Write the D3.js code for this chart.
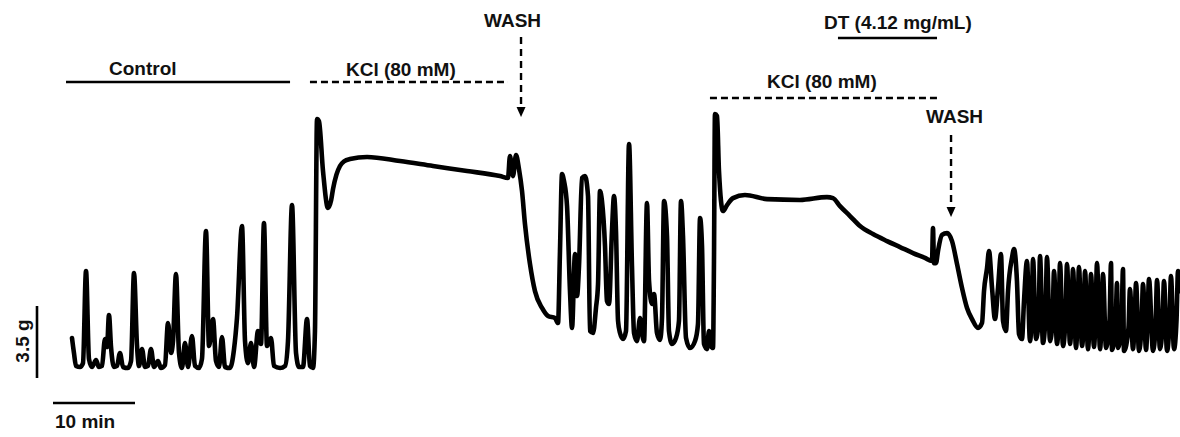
<!DOCTYPE html>
<html>
<head>
<meta charset="utf-8">
<script src="https://cdn.jsdelivr.net/npm/d3@7"></script>
<style>
  html, body { margin: 0; padding: 0; background: #fff; }
  svg { display: block; }
  text { font-family: "Liberation Sans", Arial, sans-serif; font-weight: bold; font-size: 19px; fill: #111; }
</style>
</head>
<body>
<svg id="chart" width="1180" height="437"></svg>
<script>
// Isometric tension recording: [time (min), tension (g)]

// Spontaneous contractions, control period
const controlTrace = [
  [0,1.41],[0.24,0.68],[0.49,0.05],[0.98,0],[1.34,0.19],[1.71,4.67],[2.07,0.39],[2.44,0],
  [2.93,0.34],[3.29,0],[3.66,0.05],[4.02,1.36],[4.27,0.97],[4.51,2.53],[4.76,0.97],[5.12,0],
  [5.49,0.05],[5.85,0.68],[6.22,0],[6.83,-0.05],[7.20,0.29],[7.56,4.57],[7.93,1.02],[8.17,0.05],
  [8.54,0.87],[8.90,0],[9.27,0.05],[9.63,0.87],[10.00,0],[10.49,0.29],[10.85,-0.05],[11.34,0.10],
  [11.71,2.14],[12.07,0.68],[12.32,1.26],[12.68,4.52],[13.05,0.68],[13.41,-0.05],[13.78,1.17],
  [14.15,0],[14.63,1.51],[15.00,0.05],[15.49,-0.05],[15.85,0.39],[16.34,6.61],[16.71,1.02],
  [17.20,2.33],[17.56,0.29],[17.93,0],[18.29,1.46],[18.66,0],[19.27,-0.05],[19.76,0.87],
  [20.12,2.38],[20.73,6.85],[21.10,1.26],[21.46,0.19],[21.83,1.17],[22.20,0],[22.68,1.75],
  [23.05,1.12],[23.41,7.00],[23.78,1.02],[24.27,1.41],[24.63,0.05],[25.37,-0.05],[25.98,0.05],
  [26.34,1.26],[26.83,7.87],[27.32,0.68],[27.68,0],[28.17,0],[28.66,2.33],[29.02,0.05],[29.39,-0.05]
];

// First KCl (80 mM) contracture
const kclFirstTrace = [
  [29.63,1.75],[29.88,12.05],[30.12,11.95],[30.61,9.53],[31.22,7.73],[31.60,8.10],[31.83,8.65],
  [32.25,9.35],[32.68,9.77],[33.20,10.00],[33.90,10.11],[35.98,10.21],[40.00,10.01],[44.02,9.77],
  [48.17,9.53],[52.20,9.28],[53.17,9.19],[53.41,10.25],[53.78,9.28],[54.15,10.30],[54.51,9.62]
];

// Relaxation after the first wash and return of rhythmic activity
const washFirstTrace = [
  [54.88,8.55],[55.24,6.95],[55.85,5.01],[56.46,3.69],[57.32,2.87],[58.05,2.48],[58.90,2.38],
  [59.27,2.14],[59.51,5.64],[59.76,9.38],[60.00,9.04],[60.37,7.82],[60.73,3.69],[60.98,1.90],
  [61.34,5.49],[61.59,3.45],[61.83,4.91],[62.20,9.19],[62.56,9.28],[62.93,8.31],[63.17,1.75],
  [63.54,1.65],[63.90,2.87],[64.15,4.03],[64.39,8.55],[64.63,8.07],[65.00,5.88],[65.24,3.21],
  [65.49,3.06],[65.85,6.61],[66.10,8.31],[66.34,6.61],[66.59,2.24],[66.83,1.65],[67.20,1.36],
  [67.56,1.75],[67.93,10.84],[68.29,4.91],[68.54,1.65],[68.90,1.26],[69.27,2.38],[69.51,1.65],
  [69.76,1.26],[70.12,7.97],[70.37,4.18],[70.73,3.06],[70.98,3.55],[71.34,1.65],[71.71,1.31],
  [71.95,2.38],[72.20,8.07],[72.56,6.37],[72.80,1.75],[73.17,1.12],[73.66,1.41],[74.02,2.24],
  [74.27,8.07],[74.51,6.37],[74.88,1.41],[75.37,0.92],[75.98,1.26],[76.34,2.09],[76.59,7.24],
  [76.83,5.88],[77.07,1.12],[77.44,0.87],[77.68,1.75],[77.93,1.02],[78.17,0.92]
];

// Second KCl contracture, relaxed by DT
const kclSecondTrace = [
  [78.29,5.15],[78.41,12.30],[78.66,12.20],[78.90,9.53],[79.39,7.58],[79.88,7.87],[80.61,8.21],
  [82.07,8.36],[84.76,8.16],[88.78,8.12],[92.07,8.26],[92.80,8.21],[93.66,7.82],[94.88,7.34],
  [96.10,6.85],[97.68,6.46],[99.39,6.12],[100.98,5.83],[102.56,5.54],[104.02,5.30],[104.88,5.15],
  [105.00,6.76],[105.12,5.05],[105.37,5.05],[105.61,5.64]
];

// Second wash: relaxation and first recovered contractions
const washSecondTrace = [
  [106.10,6.42],[106.71,6.51],[107.32,6.12],[107.93,5.01],[108.54,3.84],[109.15,2.87],[109.76,2.33],
  [110.49,1.90],[110.98,2.14],[111.22,3.69],[111.59,4.81],[111.83,5.64],[112.20,3.84],[112.56,2.33],
  [112.93,3.84],[113.29,5.49],[113.54,2.24],[113.90,1.75],[114.15,3.69],[114.63,5.30],[114.88,5.73],
  [115.24,4.18],[115.49,1.60],[115.85,1.36],[116.10,3.21]
];

// Fast rhythmic contractions at the end of the recording
const rhythmPeaks = [
  [116.46,5.15],[117.20,5.25],[118.05,5.39],[118.90,5.35],[119.76,4.67],[120.49,5.05],[121.34,5.01],
  [122.07,4.76],[122.80,4.86],[123.54,4.67],[124.27,4.52],[125.00,5.05],[125.73,4.52],[126.71,5.05],
  [127.44,4.08],[128.17,4.76],[129.02,3.79],[129.76,4.08],[130.61,4.03],[131.34,4.28],[132.32,4.23],
  [133.17,4.18],[134.02,4.42],[134.88,4.67]
];
const rhythmTroughs = [
  [116.83,1.26],[117.56,1.36],[118.41,1.17],[119.27,1.26],[120.12,1.12],[120.85,1.02],[121.71,1.12],
  [122.44,0.92],[123.17,1.02],[123.90,0.87],[124.63,0.97],[125.37,0.87],[126.10,0.92],[126.83,0.83],
  [127.56,0.92],[128.29,0.78],[129.39,0.87],[130.12,0.78],[130.98,0.83],[131.83,0.78],[132.68,0.87],
  [133.54,0.78],[134.39,0.87],[135.12,3.69]
];
const rhythmShoulders = [
  [117.02,2.4],[117.87,2.2],[118.72,2.5],[119.58,2.3],[120.31,2.1],[121.16,2.4],[121.89,2.2],
  [122.62,2.3],[123.36,2.0],[124.09,2.2],[124.82,2.4],[125.55,2.1],[126.53,2.3],[127.26,2.0],
  [127.99,2.2],[128.84,1.9],[129.58,2.1],[130.43,2.0],[131.16,2.2],[132.14,2.0],[132.99,2.1],
  [133.84,2.2],[134.70,2.3]
];

// Protocol annotations (minutes)
const controlPeriod = [-0.73, 26.59];
const kclPeriods = [[29.02, 53.17], [77.80, 105.49]];
const dtPeriod = [93.41, 105.49];
const washTimes = [54.76, 107.20];
const controlLabel = "Control";
const kclLabel = "KCl (80 mM)";
const dtLabel = "DT (4.12 mg/mL)";
const washLabel = "WASH";
const scaleTime = 10;     // min
const scaleTension = 3.5; // g

const svg = d3.select("#chart");

const x = d3.scaleLinear().domain([0, 135]).range([72, 72 + 135 * 8.2]);
const y = d3.scaleLinear().domain([0, 3.5]).range([367, 295]);

const rhythm = [...rhythmPeaks, ...rhythmTroughs, ...rhythmShoulders].sort((a, b) => a[0] - b[0]);
const trace = [...controlTrace, ...kclFirstTrace, ...washFirstTrace, ...kclSecondTrace, ...washSecondTrace, ...rhythm];

const line = d3.line().x(d => x(d[0])).y(d => y(d[1])).curve(d3.curveMonotoneX);

svg.append("path")
  .attr("d", line(trace))
  .attr("fill", "none")
  .attr("stroke", "#000")
  .attr("stroke-width", 4.6)
  .attr("stroke-linejoin", "round")
  .attr("stroke-linecap", "round");

// Treatment bars
function bar(period, yPos, dashed) {
  svg.append("line")
    .attr("x1", x(period[0])).attr("x2", x(period[1]))
    .attr("y1", yPos).attr("y2", yPos)
    .attr("stroke", "#000")
    .attr("stroke-width", 2.4)
    .attr("stroke-dasharray", dashed ? "7,4" : null);
}
function label(txt, xPos, yPos, anchor) {
  svg.append("text").attr("x", xPos).attr("y", yPos)
    .attr("text-anchor", anchor || "start").text(txt);
}

bar(controlPeriod, 82, false);
label(controlLabel, x(controlPeriod[0]) + 43, 75);

bar(kclPeriods[0], 82, true);
label(kclLabel, x(kclPeriods[0][0]) + 36, 76);

bar(kclPeriods[1], 98, true);
label(kclLabel, x(kclPeriods[1][0]) + 57, 88);

bar(dtPeriod, 38, false);
label(dtLabel, x(dtPeriod[0]) - 14, 29);

// Wash arrows
const washLayout = [
  { labelDx: -37, labelY: 27, top: 37, tip: 117 },
  { labelDx: -25, labelY: 123, top: 135, tip: 217 }
];
washTimes.forEach((t, i) => {
  const L = washLayout[i];
  const ax = x(t);
  label(washLabel, ax + L.labelDx, L.labelY);
  svg.append("line")
    .attr("x1", ax).attr("x2", ax)
    .attr("y1", L.top).attr("y2", L.tip - 10)
    .attr("stroke", "#000").attr("stroke-width", 2.4)
    .attr("stroke-dasharray", "7,5");
  svg.append("path")
    .attr("d", `M${ax - 4.5},${L.tip - 10}L${ax + 4.5},${L.tip - 10}L${ax},${L.tip}Z`)
    .attr("fill", "#000");
});

// Calibration bars
const tensionLen = y(0) - y(scaleTension);
svg.append("line")
  .attr("x1", 37).attr("x2", 37)
  .attr("y1", 378).attr("y2", 378 - tensionLen)
  .attr("stroke", "#000").attr("stroke-width", 2.6);
svg.append("text")
  .attr("transform", "translate(29,341) rotate(-90)")
  .attr("text-anchor", "middle")
  .text(scaleTension + " g");

const timeLen = x(scaleTime) - x(0);
svg.append("line")
  .attr("x1", 53).attr("x2", 53 + timeLen)
  .attr("y1", 403).attr("y2", 403)
  .attr("stroke", "#000").attr("stroke-width", 2.6);
svg.append("text").attr("x", 55).attr("y", 428).text(scaleTime + " min");
</script>
</body>
</html>
